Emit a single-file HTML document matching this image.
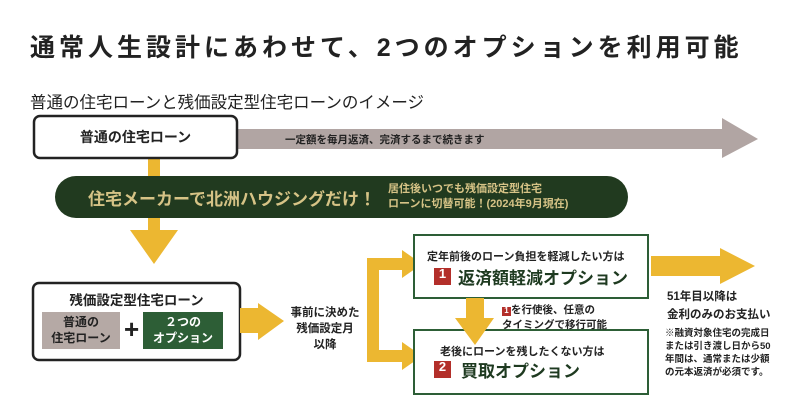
<!DOCTYPE html>
<html><head><meta charset="utf-8"><style>
body{margin:0;width:800px;height:420px;background:#fff;position:relative;overflow:hidden;font-family:"Liberation Sans","Noto Sans CJK JP",sans-serif;color:#222}
.a{position:absolute;white-space:nowrap}
.b{font-weight:bold}
</style></head><body>
<svg class="a" style="left:0;top:0" width="800" height="420">
<polygon points="237,129 722,129 722,118 758,139 722,158 722,149 237,149" fill="#b1a5a3"/>
<rect x="148" y="158" width="12" height="74" fill="#ecb731"/>
<polygon points="130,230 178,230 154,264" fill="#ecb731"/>
<rect x="55" y="176" width="573" height="42" rx="21" fill="#213a1f"/>
<rect x="34" y="116" width="203" height="42" rx="6" fill="#fff" stroke="#222" stroke-width="2.5"/>
<rect x="33" y="283" width="207" height="77" rx="6" fill="#fff" stroke="#222" stroke-width="2.5"/>
<rect x="42" y="312" width="78" height="37" fill="#b5a9a5"/>
<rect x="143" y="312" width="80" height="37" fill="#2d5e36"/>
<polygon points="240,308 258,308 258,303 284,321 258,340 258,333 240,333" fill="#ecb731"/>
<path d="M367,258 H402 V250 L422,264 L402,278 V270 H379 V350 H402 V342 L422,356 L402,370 V362 H367 Z" fill="#ecb731"/>
<rect x="414" y="235" width="234" height="63" fill="#fff" stroke="#2d5e36" stroke-width="2"/>
<rect x="414" y="330" width="234" height="64" fill="#fff" stroke="#2d5e36" stroke-width="2"/>
<polygon points="466,298 484,298 484,318 494,318 475,345 455,318 466,318" fill="#ecb731"/>
<polygon points="651,256 720,256 720,248 755,266 720,284 720,276 651,276" fill="#ecb731"/>
<rect x="434" y="268" width="17" height="17" fill="#b32f2a"/>
<rect x="434" y="361" width="17" height="17" fill="#b32f2a"/>
<rect x="502" y="307" width="9" height="9" fill="#b32f2a"/>
</svg>
<div class="a b" style="left:30px;top:28px;font-size:25px;letter-spacing:4px">通常人生設計にあわせて、2つのオプションを利用可能</div>
<div class="a" style="left:30px;top:89px;font-size:16.5px">普通の住宅ローンと残価設定型住宅ローンのイメージ</div>
<div class="a b" style="left:34px;top:127px;width:203px;text-align:center;font-size:14px">普通の住宅ローン</div>
<div class="a b" style="left:285px;top:132px;font-size:10.5px">一定額を毎月返済、完済するまで続きます</div>
<div class="a b" style="left:88px;top:185px;font-size:17px;color:#d6c386">住宅メーカーで北洲ハウジングだけ！</div>
<div class="a b" style="left:388px;top:182px;font-size:11px;line-height:15px;color:#d6c386">居住後いつでも残価設定型住宅<br>ローンに切替可能！(2024年9月現在)</div>
<div class="a b" style="left:33px;top:289px;width:207px;text-align:center;font-size:13.5px">残価設定型住宅ローン</div>
<div class="a b" style="left:42px;top:314px;width:78px;text-align:center;font-size:12px;line-height:16px">普通の<br>住宅ローン</div>
<div class="a b" style="left:124px;top:314px;font-size:26px;line-height:30px">+</div>
<div class="a b" style="left:143px;top:314px;width:80px;text-align:center;font-size:12px;line-height:16px;color:#fff">２つの<br>オプション</div>
<div class="a b" style="left:284px;top:305px;width:82px;text-align:center;font-size:11.5px;line-height:16px">事前に決めた<br>残価設定月<br>以降</div>
<div class="a b" style="left:427px;top:248px;font-size:11px">定年前後のローン負担を軽減したい方は</div>
<div class="a b" style="left:434px;top:266px;width:17px;text-align:center;font-size:13px;color:#fff">1</div>
<div class="a b" style="left:458px;top:264px;font-size:17px;color:#1e3a20">返済額軽減オプション</div>
<div class="a b" style="left:440px;top:343px;font-size:11px">老後にローンを残したくない方は</div>
<div class="a b" style="left:434px;top:359px;width:17px;text-align:center;font-size:13px;color:#fff">2</div>
<div class="a b" style="left:461px;top:357px;font-size:17px;color:#1e3a20">買取オプション</div>
<div class="a b" style="left:502px;top:303px;font-size:10.5px;line-height:14px"><span style="color:#fff;font-size:8px;display:inline-block;width:9px;text-align:center">1</span>を行使後、任意の<br>タイミングで移行可能</div>
<div class="a b" style="left:667px;top:288px;font-size:11.5px;line-height:18px">51年目以降は<br>金利のみのお支払い</div>
<div class="a b" style="left:665px;top:327px;font-size:9.5px;line-height:13px">※融資対象住宅の完成日<br>または引き渡し日から50<br>年間は、通常または少額<br>の元本返済が必須です。</div>
</body></html>
